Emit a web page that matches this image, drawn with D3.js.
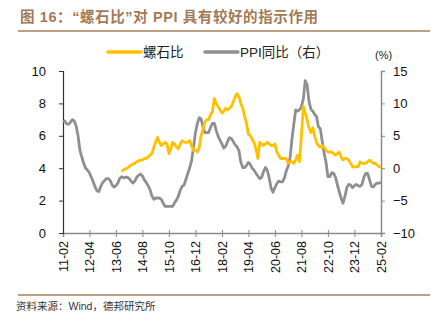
<!DOCTYPE html>
<html>
<head>
<meta charset="utf-8">
<script src="https://cdn.jsdelivr.net/npm/d3@7/dist/d3.min.js"></script>
<style>
  body { margin: 0; background: #fff; }
  svg text { font-family: "Liberation Sans", Arial, "Noto Sans CJK SC", sans-serif; }
  .cn { font-family: "Liberation Sans", "Noto Sans CJK SC", sans-serif; }
</style>
</head>
<body>
<svg width="434" height="325"></svg>
<script>
// PPI同比, monthly from 2011-02
var ppiStart = new Date(2011, 1, 1);
var ppi = [
  7.2, 7.3, 6.8, 6.8, 7.1, 7.5, 7.3, 6.5, 5.0, 2.7, 1.7,
  0.7, 0.0, -0.3, -0.7, -1.4, -2.1, -2.9, -3.5, -3.6, -2.8, -2.2, -1.9,
  -1.6, -1.6, -1.9, -2.6, -2.9, -2.7, -2.3, -1.6, -1.3, -1.5, -1.4, -1.4,
  -1.6, -2.0, -2.3, -2.0, -1.4, -1.1, -0.9, -1.2, -1.8, -2.2, -2.7, -3.3,
  -4.3, -4.8, -4.6, -4.6, -4.6, -4.8, -5.4, -5.9, -5.9, -5.9, -5.9, -5.9,
  -5.3, -4.9, -4.3, -3.4, -2.8, -2.6, -1.7, -0.8, 0.1, 1.2, 3.3, 5.5,
  6.9, 7.8, 7.6, 6.4, 5.5, 5.5, 5.5, 6.3, 6.9, 6.9, 5.8, 4.9,
  4.3, 3.7, 3.1, 3.4, 4.1, 4.7, 4.6, 4.1, 3.6, 3.3, 2.7, 0.9,
  0.1, 0.1, 0.4, 0.9, 0.6, 0.0, -0.3, -0.8, -1.2, -1.6, -1.4, -0.5,
  0.1, -0.4, -1.5, -3.1, -3.7, -3.0, -2.4, -2.0, -2.1, -2.1, -1.5, -0.4,
  0.3, 1.7, 4.4, 6.8, 9.0, 8.8, 9.0, 9.5, 10.7, 13.5, 12.9, 10.3,
  9.1, 8.8, 8.3, 8.0, 6.4, 6.1, 4.2, 2.3, 0.9, -1.3, -1.3, -0.7,
  -0.8, -1.4, -2.5, -3.6, -4.6, -5.4, -4.4, -3.0, -2.5, -2.6, -3.0, -2.7,
  -2.5, -2.7, -2.8, -2.5, -1.4, -0.8, -0.8, -1.8, -2.8, -2.9, -2.5, -2.3,
  -2.3, -2.2
];

// 螺石比, monthly from 2013-09
var ratioStart = new Date(2013, 8, 1);
var ratio = [
  3.8, 3.9, 3.95, 4.0,
  4.1, 4.2, 4.25, 4.3, 4.4, 4.45, 4.5, 4.5, 4.6, 4.6, 4.7, 4.8,
  4.9, 5.3, 5.6, 5.9, 5.6, 5.4, 5.5, 5.6, 5.5, 4.9, 5.2, 5.6,
  5.5, 5.3, 5.2, 5.5, 5.7, 5.6, 5.6, 5.6, 5.7, 5.4, 5.1, 5.1,
  5.0, 5.3, 6.0, 6.4, 6.85, 7.0, 7.0, 7.3, 7.5, 8.3, 8.0, 7.8,
  7.6, 7.4, 7.5, 7.7, 7.6, 7.7, 7.8, 8.1, 8.4, 8.6, 8.4, 8.0,
  7.7, 7.2, 6.8, 6.1, 6.0, 5.8, 5.6, 5.2, 4.6, 5.6, 5.5, 5.4,
  5.5, 5.6, 5.5, 5.4, 5.4, 5.5, 5.0, 4.8, 4.6, 4.6, 4.6, 4.6,
  4.3, 4.4, 4.4, 4.3, 4.5, 4.8, 4.4, 6.0, 7.8, 7.4, 7.0, 6.5,
  6.2, 6.5, 6.0, 5.6, 5.4, 5.3, 5.4, 5.3, 5.1, 5.0, 5.0, 5.0,
  4.9, 4.8, 4.9, 5.0, 4.7, 4.5, 4.6, 4.6, 4.5, 4.3, 4.1, 4.07,
  4.1, 4.1, 4.4, 4.3, 4.3, 4.3, 4.4, 4.5, 4.4, 4.3, 4.3, 4.2,
  4.1, 4.07
];

var tickMonths = ["2011-02", "2012-04", "2013-06", "2014-08", "2015-10", "2016-12",
  "2018-02", "2019-04", "2020-06", "2021-08", "2022-10", "2023-12", "2025-02"];
var leftTicks = [0, 2, 4, 6, 8, 10];
var rightTicks = [-10, -5, 0, 5, 10, 15];

var svg = d3.select("svg");
var parseMonth = d3.timeParse("%Y-%m");
var fmt = d3.timeFormat("%y-%m");

var plotL = 63, plotR = 381, plotT = 71, plotB = 233;

var x = d3.scaleTime()
  .domain([ppiStart, parseMonth("2025-02")])
  .range([plotL, plotR]);
var yL = d3.scaleLinear().domain([0, 10]).range([plotB, plotT]);
var yR = d3.scaleLinear().domain([-10, 15]).range([plotB, plotT]);

var ppiData = ppi.map(function (v, i) { return { date: d3.timeMonth.offset(ppiStart, i), value: v }; });
var ratioData = ratio.map(function (v, i) { return { date: d3.timeMonth.offset(ratioStart, i), value: v }; });

// title + rules
svg.append("text").attr("class", "cn")
  .attr("x", 20).attr("y", 22)
  .attr("fill", "#a27a56").style("font-size", "14.5px").style("font-weight", "bold")
  .style("letter-spacing", "0.6px")
  .text("图 16：“螺石比”对 PPI 具有较好的指示作用");
svg.append("line").attr("x1", 18).attr("x2", 430).attr("y1", 31).attr("y2", 31)
  .attr("stroke", "#a8805c").attr("stroke-width", 1.5);
svg.append("line").attr("x1", 18).attr("x2", 430).attr("y1", 295).attr("y2", 295)
  .attr("stroke", "#a8805c").attr("stroke-width", 1.5);
svg.append("text").attr("class", "cn")
  .attr("x", 16).attr("y", 310)
  .attr("fill", "#333").style("font-size", "10.5px")
  .text("资料来源：Wind，德邦研究所");

// axes
var gx = svg.append("g")
  .attr("transform", "translate(0," + plotB + ")")
  .call(d3.axisBottom(x).tickValues(tickMonths.map(parseMonth)).tickFormat(fmt).tickSize(4));
gx.select(".domain").attr("stroke", "#8a8a8a").attr("stroke-width", 1.5);
gx.selectAll(".tick line").attr("stroke", "#8a8a8a").attr("y1", -3);
gx.selectAll(".tick text")
  .attr("transform", "rotate(-90)")
  .attr("x", -8).attr("y", 0).attr("dy", "0.35em")
  .style("text-anchor", "end")
  .style("font-size", "12.5px").attr("fill", "#111");

var gl = svg.append("g")
  .attr("transform", "translate(" + plotL + ",0)")
  .call(d3.axisLeft(yL).tickValues(leftTicks).tickSize(4).tickPadding(13));
gl.select(".domain").attr("stroke", "#333").attr("stroke-width", 1.2);
gl.selectAll(".tick line").attr("stroke", "#333");
gl.selectAll(".tick text").style("font-size", "13px").attr("fill", "#111");

var gr = svg.append("g")
  .attr("transform", "translate(" + plotR + ",0)")
  .call(d3.axisRight(yR).tickValues(rightTicks).tickSize(4).tickPadding(8));
gr.select(".domain").attr("stroke", "#8a8a8a").attr("stroke-width", 1.5);
gr.selectAll(".tick line").attr("stroke", "#8a8a8a");
gr.selectAll(".tick text").style("font-size", "13px").attr("fill", "#111");

svg.append("text").attr("class", "cn")
  .attr("x", 375).attr("y", 59)
  .attr("fill", "#222").style("font-size", "11px")
  .text("(%)");

// lines
var ppiLine = d3.line().x(function (d) { return x(d.date); }).y(function (d) { return yR(d.value); });
var ratioLine = d3.line().x(function (d) { return x(d.date); }).y(function (d) { return yL(d.value); });

svg.append("path").datum(ppiData)
  .attr("fill", "none").attr("stroke", "#8f8f8f").attr("stroke-width", 2.8)
  .attr("stroke-linejoin", "round").attr("d", ppiLine);
svg.append("path").datum(ratioData)
  .attr("fill", "none").attr("stroke", "#ffc000").attr("stroke-width", 2.8)
  .attr("stroke-linejoin", "round").attr("d", ratioLine);

// legend
var legend = [
  { name: "螺石比", color: "#ffc000", x: 108 },
  { name: "PPI同比（右）", color: "#8f8f8f", x: 205 }
];
legend.forEach(function (l) {
  svg.append("line").attr("x1", l.x).attr("x2", l.x + 33).attr("y1", 52).attr("y2", 52)
    .attr("stroke", l.color).attr("stroke-width", 3.5).attr("stroke-linecap", "round");
  svg.append("text").attr("class", "cn")
    .attr("x", l.x + 35).attr("y", 57)
    .attr("fill", "#222").style("font-size", "13.5px")
    .text(l.name);
});
</script>
</body>
</html>
